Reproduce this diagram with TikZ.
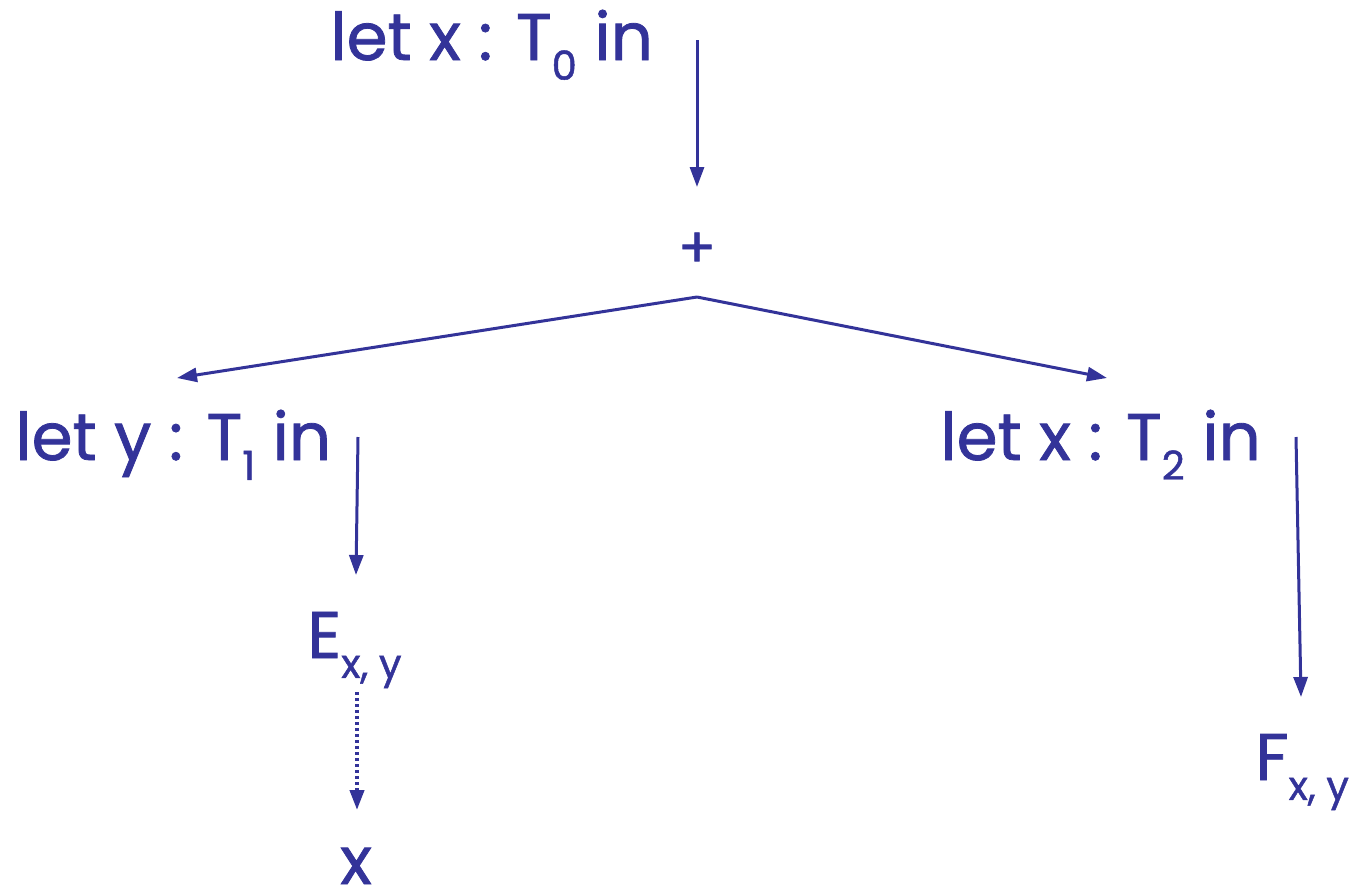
\documentclass[tikz,border=0pt]{standalone}
\usepackage{fontspec}
\setmainfont{Poppins}[FakeBold=1.2]
\usetikzlibrary{arrows.meta}
\definecolor{letblue}{RGB}{51,51,153}
\newcommand{\lowidx}[1]{\raisebox{-0.3em}{\fontsize{20}{20}\selectfont #1}}

\begin{document}
\begin{tikzpicture}[x=0.5pt,y=-0.5pt,
  every node/.style={text=letblue,font=\fontsize{33}{36}\selectfont,inner sep=0pt},
  edge/.style={draw=letblue,line width=1.5pt,-{Triangle[length=10pt,width=7pt]}}]
  \useasboundingbox (0,0) rectangle (1359,894);
  % the outer binding of x
  \node[anchor=base west] (letx) at (330,60) {let x : T\lowidx{0} in};
  \node[font=\fontsize{28}{28}\selectfont] (plus) at (697,250) {+};
  \coordinate (xout) at (697,40);
  \coordinate (plusin) at (697,187);
  \draw[edge] (xout) -- (plusin);
  % the two branches of +
  \coordinate (split) at (697,297);
  \coordinate (lyin) at (177,378);
  \coordinate (lxin) at (1107,378);
  \draw[edge] (split) -- (lyin);
  \draw[edge] (split) -- (lxin);
  % left branch: let y, then E
  \node[anchor=base west] (lety) at (15,460) {let y : T\lowidx{1} in};
  \node[anchor=base west] (ebody) at (307,658) {E\lowidx{x, y}};
  \coordinate (lyout) at (358,437);
  \coordinate (ein) at (356,575);
  \draw[edge] (lyout) -- (ein);
  % E refers to the x of the outer let
  \node[anchor=base] (xref) at (356,884) {x};
  \coordinate (eout) at (357,692);
  \coordinate (xrefin) at (357,810);
  \draw[edge,line width=2pt,dash pattern=on 1.5pt off 1.5pt] (eout) -- (xrefin);
  % right branch: let x again, then F
  \node[anchor=base west] (letxb) at (940,460) {let x : T\lowidx{2} in};
  \node[anchor=base west] (fbody) at (1255,780) {F\lowidx{x, y}};
  \coordinate (lxout) at (1296,437);
  \coordinate (fin) at (1301,697);
  \draw[edge] (lxout) -- (fin);
\end{tikzpicture}
\end{document}
